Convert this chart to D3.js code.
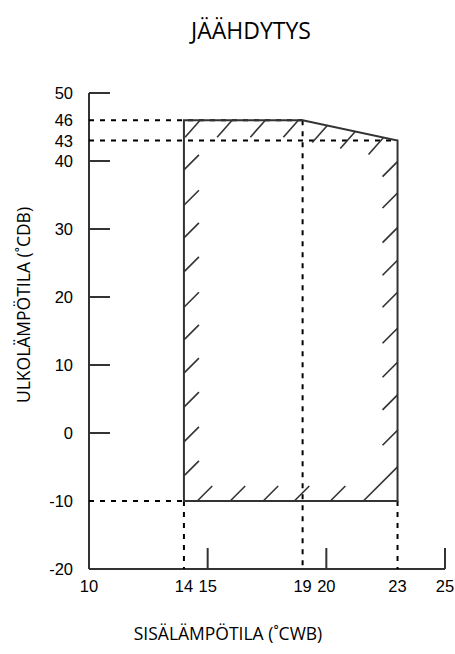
<!DOCTYPE html>
<html>
<head>
<meta charset="utf-8">
<script src="https://cdn.jsdelivr.net/npm/d3@7"></script>
<style>
  body { margin: 0; background: #fff; }
</style>
</head>
<body>
<div id="chart"></div>
<script>
// axis labels / ticks
const xTickLabels = [10, 14, 15, 19, 20, 23, 25];
const xTickMarks = [15, 20, 25];
const yTickLabels = [50, 46, 43, 40, 30, 20, 10, 0, -10, -20];
const yTickMarks = [50, 40, 30, 20, 10, 0];

// operating range outline: indoor WB (x) vs outdoor DB (y)
const rangeX = [14, 14, 19, 23, 23];
const rangeY = [-10, 46, 46, 43, -10];

// dashed guide lines
const guideH = [46, 43, -10];      // y value, runs from axis to the outline
const guideHEnd = [19, 23, 14];    // x where each horizontal guide stops
const guideV = [14, 19, 23];       // x value, runs down to the x axis
const guideVStart = [-10, 46, -10];

// hatch positions along the outline
const hatchLeft = [-6.3, -1.3, 3.8, 8.8, 13.7, 18.5, 23.7, 28.7, 33.5, 38.7];
const hatchTop = [14.68, 16.03, 17.43, 18.82, 20.04, 21.22, 22.41];
const hatchRight = [0.4, 5.6, 10.4, 15.4, 20.7, 25.4, 30.2, 35.3, 39.9];
const hatchBottom = [14.56, 15.95, 17.34, 18.65, 20.17, 21.56];

const W = 455, H = 654;
const svg = d3.select("#chart").append("svg")
    .attr("width", W)
    .attr("height", H);

const x = d3.scaleLinear().domain([10, 25]).range([89, 445]);
const y = d3.scaleLinear().domain([-20, 50]).range([569, 93]);

const lineCol = "#333";
const tickFont = "'Liberation Sans', Arial, sans-serif";
const labelFont = "'Open Sans', 'Noto Sans', sans-serif";

// axes lines
svg.append("line")
    .attr("x1", x(10)).attr("x2", x(10))
    .attr("y1", y(50)).attr("y2", y(-20))
    .attr("stroke", lineCol).attr("stroke-width", 2);
svg.append("line")
    .attr("x1", x(10)).attr("x2", x(25))
    .attr("y1", y(-20)).attr("y2", y(-20))
    .attr("stroke", lineCol).attr("stroke-width", 2);

// tick marks (inside)
svg.selectAll(".ytick").data(yTickMarks).enter().append("line")
    .attr("x1", x(10)).attr("x2", x(10) + 21)
    .attr("y1", d => y(d)).attr("y2", d => y(d))
    .attr("stroke", lineCol).attr("stroke-width", 2);
svg.selectAll(".xtick").data(xTickMarks).enter().append("line")
    .attr("x1", d => x(d)).attr("x2", d => x(d))
    .attr("y1", y(-20)).attr("y2", y(-20) - 21)
    .attr("stroke", lineCol).attr("stroke-width", 2);

// tick labels
svg.selectAll(".ylab").data(yTickLabels).enter().append("text")
    .attr("x", x(10) - 16)
    .attr("y", d => y(d))
    .attr("dy", "0.36em")
    .attr("text-anchor", "end")
    .style("font-family", tickFont)
    .style("font-size", "16.5px")
    .text(d => d);
svg.selectAll(".xlab").data(xTickLabels).enter().append("text")
    .attr("x", d => x(d))
    .attr("y", y(-20) + 23)
    .attr("text-anchor", "middle")
    .style("font-family", tickFont)
    .style("font-size", "16.5px")
    .text(d => d);

// dashed guides
guideH.forEach((v, i) => {
    svg.append("line")
        .attr("x1", x(10)).attr("x2", x(guideHEnd[i]))
        .attr("y1", y(v)).attr("y2", y(v))
        .attr("stroke", "#000").attr("stroke-width", 2)
        .attr("stroke-dasharray", "5,6");
});
guideV.forEach((v, i) => {
    svg.append("line")
        .attr("x1", x(v)).attr("x2", x(v))
        .attr("y1", y(guideVStart[i])).attr("y2", y(-20))
        .attr("stroke", "#000").attr("stroke-width", 2)
        .attr("stroke-dasharray", "5,6");
});

// outline
const pts = rangeX.map((d, i) => [x(d), y(rangeY[i])]);
svg.append("path")
    .attr("d", d3.line()(pts) + "Z")
    .attr("fill", "none")
    .attr("stroke", lineCol)
    .attr("stroke-width", 2);

// hatching
const hd = 15;
const hatch = svg.append("g")
    .attr("stroke", lineCol)
    .attr("stroke-width", 1.6);
function topY(v) {
    // y value of the top edge at x = v
    if (v <= 19) return 46;
    return 46 + (43 - 46) * (v - 19) / (23 - 19);
}
hatchLeft.forEach(v => {
    hatch.append("line")
        .attr("x1", x(14)).attr("y1", y(v))
        .attr("x2", x(14) + hd).attr("y2", y(v) - hd);
});
hatchTop.forEach(v => {
    hatch.append("line")
        .attr("x1", x(v)).attr("y1", y(topY(v)))
        .attr("x2", x(v) - hd).attr("y2", y(topY(v)) + hd + 2);
});
hatchRight.forEach(v => {
    hatch.append("line")
        .attr("x1", x(23)).attr("y1", y(v))
        .attr("x2", x(23) - hd).attr("y2", y(v) + hd);
});
hatchBottom.forEach((v, i) => {
    // last one runs into the bottom-right corner
    const len = i === hatchBottom.length - 1 ? x(23) - x(v) : hd;
    hatch.append("line")
        .attr("x1", x(v)).attr("y1", y(-10))
        .attr("x2", x(v) + len).attr("y2", y(-10) - len);
});

// titles
svg.append("text")
    .attr("x", 251).attr("y", 39)
    .attr("text-anchor", "middle")
    .style("font-family", labelFont)
    .style("font-size", "23px")
    .text("JÄÄHDYTYS");
svg.append("text")
    .attr("x", 228).attr("y", 640)
    .attr("text-anchor", "middle")
    .style("font-family", labelFont)
    .style("font-size", "17.5px")
    .text("SISÄLÄMPÖTILA (˚CWB)");
svg.append("text")
    .attr("transform", "translate(30,305) rotate(-90)")
    .attr("text-anchor", "middle")
    .style("font-family", labelFont)
    .style("font-size", "17.5px")
    .text("ULKOLÄMPÖTILA (˚CDB)");
</script>
</body>
</html>
